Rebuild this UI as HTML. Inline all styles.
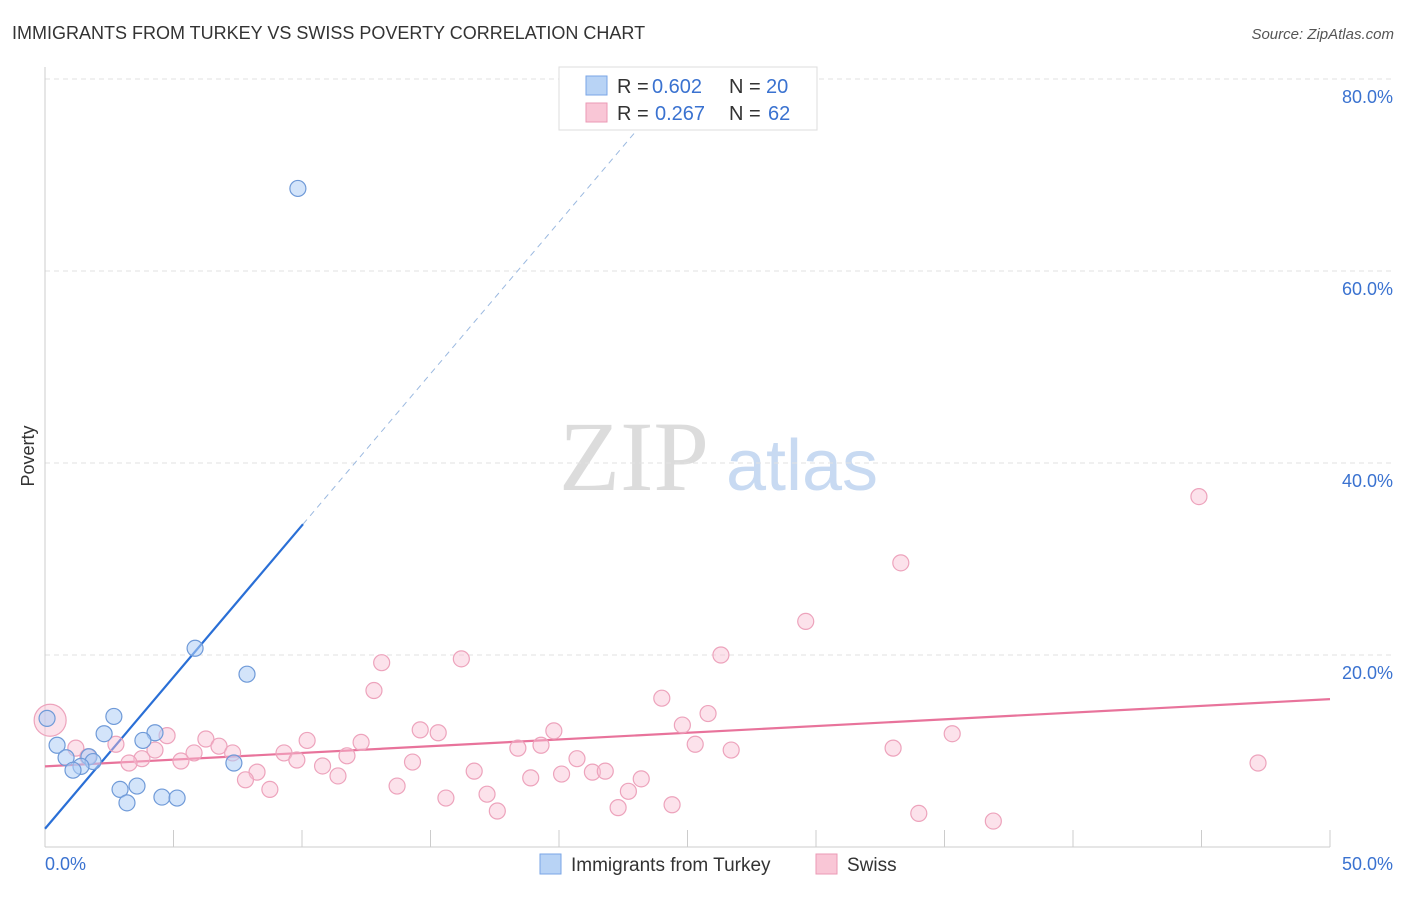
<!DOCTYPE html>
<html><head><meta charset="utf-8">
<style>
body{margin:0;background:#fff;font-family:"Liberation Sans",sans-serif;}
</style></head>
<body>
<svg width="1406" height="892" viewBox="0 0 1406 892" xmlns="http://www.w3.org/2000/svg" font-family="Liberation Sans, sans-serif">
<text x="12" y="39" font-size="18" fill="#333">IMMIGRANTS FROM TURKEY VS SWISS POVERTY CORRELATION CHART</text>
<text x="1394" y="39" font-size="15" fill="#555" font-style="italic" text-anchor="end">Source: ZipAtlas.com</text>
<text x="634" y="490" font-size="100" fill="#dcdcdc" style="font-family:'Liberation Serif',serif" text-anchor="middle">ZIP</text>
<text x="802" y="490" font-size="72" fill="#c8daf2" text-anchor="middle">atlas</text>
<g id="grid"></g>
<g id="ticks"></g>
<line x1="45" y1="67" x2="45" y2="847" stroke="#ccc"/>
<line x1="45" y1="847" x2="1330" y2="847" stroke="#ccc"/>
<text x="34" y="456" font-size="18" fill="#333" text-anchor="middle" transform="rotate(-90 34 456)">Poverty</text>
<text x="45" y="870" font-size="18" fill="#3a72d0">0.0%</text>
<text x="1393" y="870" font-size="18" fill="#3a72d0" text-anchor="end">50.0%</text>
<g id="lines"></g>
<g id="pts"></g>
<g>
<rect x="559" y="67" width="258" height="63" fill="#fff" stroke="#ddd"/>
<rect x="586" y="76" width="21" height="19" fill="#b8d3f5" stroke="#7aa6e6"/>
<rect x="586" y="103" width="21" height="19" fill="#f9c6d6" stroke="#eb9ab5"/>
<text x="617" y="93" font-size="20" fill="#333">R =</text>
<text x="652" y="93" font-size="20" fill="#3a72d0">0.602</text>
<text x="729" y="93" font-size="20" fill="#333">N =</text>
<text x="766" y="93" font-size="20" fill="#3a72d0">20</text>
<text x="617" y="120" font-size="20" fill="#333">R =</text>
<text x="655" y="120" font-size="20" fill="#3a72d0">0.267</text>
<text x="729" y="120" font-size="20" fill="#333">N =</text>
<text x="768" y="120" font-size="20" fill="#3a72d0">62</text>
</g>
<g>
<rect x="540" y="854" width="21" height="20" fill="#b8d3f5" stroke="#7aa6e6"/>
<text x="571" y="871" font-size="19" fill="#333">Immigrants from Turkey</text>
<rect x="816" y="854" width="21" height="20" fill="#f9c6d6" stroke="#eb9ab5"/>
<text x="847" y="871" font-size="19" fill="#333">Swiss</text>
</g>
</svg>
<script>
const yTicks=[20,40,60,80];
const yTickLabels=["20.0%","40.0%","60.0%","80.0%"];
const xTicks=[0,5,10,15,20,25,30,35,40,45,50];
const blueX=[9.84,5.84,7.86,2.68,2.30,4.28,3.81,0.47,0.82,1.71,1.87,1.40,1.09,7.35,2.92,3.58,3.19,4.55,5.14,0.08];
const blueY=[68.6,20.7,18.0,13.6,11.8,11.9,11.1,10.6,9.3,9.4,8.9,8.4,8.0,8.75,6.0,6.35,4.6,5.2,5.1,13.4];
const pinkX=[0.2,44.9,33.3,29.6,26.3,16.2,13.1,12.8,24.0,25.8,24.8,35.3,14.6,15.3,19.8,10.2,12.3,4.75,6.26,6.77,2.76,1.2,4.28,5.8,7.3,9.3,18.4,19.3,25.3,26.7,33.0,1.67,3.77,3.27,5.29,9.8,11.75,20.7,14.3,10.8,8.25,11.4,16.7,7.8,18.9,20.1,21.3,21.8,23.2,13.7,8.75,22.7,17.2,15.6,24.4,22.3,17.6,34.0,36.9,47.2];
const pinkY=[13.2,36.5,29.6,23.5,20.0,19.6,19.2,16.3,15.5,13.9,12.7,11.8,12.2,11.9,12.1,11.1,10.9,11.6,11.25,10.5,10.7,10.3,10.1,9.8,9.8,9.8,10.3,10.6,10.7,10.1,10.3,9.4,9.2,8.75,8.96,9.06,9.5,9.2,8.85,8.44,7.8,7.4,7.9,7.0,7.2,7.6,7.8,7.9,7.1,6.35,6.0,5.8,5.5,5.1,4.4,4.1,3.75,3.5,2.7,8.75];
const blueTrend=[1.9,3.16];
const pinkTrend=[8.4,0.14];
const X=v=>45+v*25.7, Y=v=>847-v*9.6;
const NS="http://www.w3.org/2000/svg";
function mk(tag,attrs,parent){const e=document.createElementNS(NS,tag);for(const k in attrs)e.setAttribute(k,attrs[k]);document.getElementById(parent).appendChild(e);return e;}
yTicks.forEach((t,i)=>{
 const l=mk('line',{x1:45,x2:1394,y1:Y(t),y2:Y(t),stroke:'#e2e2e2','stroke-dasharray':'5,4'},'grid');
 
 
 const tx=mk('text',{x:1393,y:Y(t)+24,'font-size':18,fill:'#3a72d0','text-anchor':'end'},'grid');
 tx.textContent=yTickLabels[i];
 
 
});
xTicks.forEach(t=>{
 const l=mk('line',{x1:X(t),x2:X(t),y1:830,y2:847,stroke:'#ccc'},'ticks');
 
 
});
let x1=0,x2=10.04;
let l=mk('line',{x1:X(x1),y1:Y(blueTrend[0]),x2:X(x2),y2:Y(blueTrend[0]+blueTrend[1]*x2),stroke:'#2a6fd6','stroke-width':2.2},'lines');


let x3=23.3;
l=mk('line',{x1:X(x2),y1:Y(blueTrend[0]+blueTrend[1]*x2),x2:X(x3),y2:Y(blueTrend[0]+blueTrend[1]*x3),stroke:'#9bb9e0','stroke-width':1,'stroke-dasharray':'6,5'},'lines');


l=mk('line',{x1:X(0),y1:Y(pinkTrend[0]),x2:X(50),y2:Y(pinkTrend[0]+pinkTrend[1]*50),stroke:'#e8739b','stroke-width':2.2},'lines');


pinkX.forEach((v,i)=>{
 const c=mk('circle',{cx:X(v),cy:Y(pinkY[i]),r:i==0?16:8,fill:'rgba(248,190,210,0.45)',stroke:'#eda3bc','stroke-width':1.2},'pts');
 
 
});
blueX.forEach((v,i)=>{
 const c=mk('circle',{cx:X(v),cy:Y(blueY[i]),r:8,fill:'rgba(175,205,245,0.55)',stroke:'#6f9ad8','stroke-width':1.2},'pts');
 
 
});
</script>
</body></html>
